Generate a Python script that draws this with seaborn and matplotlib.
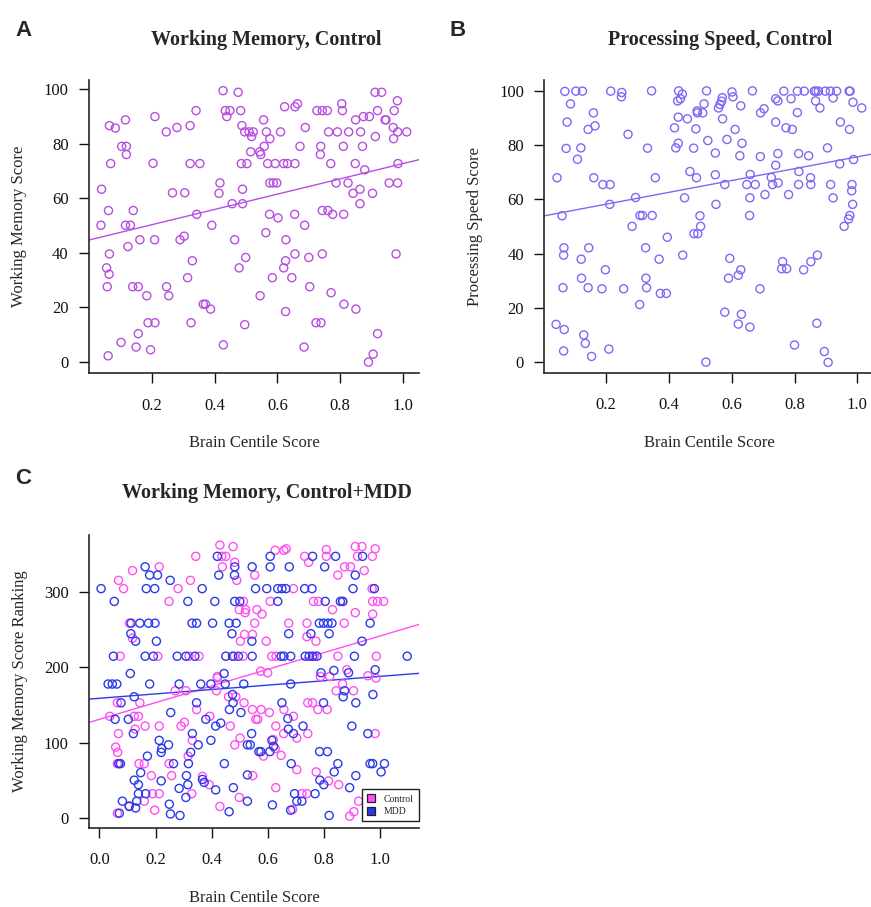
import numpy as np
import pandas as pd
import matplotlib
matplotlib.use("Agg")
import matplotlib.pyplot as plt
from matplotlib.lines import Line2D
import seaborn as sns

# ---------------- data ----------------
# Panel A: Working Memory, Control
wm_x = [0.040, 0.038, 0.062, 0.065, 0.084, 0.069, 0.065, 0.056, 0.064, 0.058, 0.061, 0.102, 0.116, 0.104,
        0.119, 0.119, 0.116, 0.132, 0.124, 0.141, 0.139, 0.157, 0.162, 0.157, 0.150, 0.184, 0.188, 0.210,
        0.196, 0.204, 0.210, 0.209, 0.246, 0.280, 0.247, 0.254, 0.266, 0.305, 0.290, 0.303, 0.322, 0.322,
        0.353, 0.341, 0.343, 0.329, 0.314, 0.325, 0.364, 0.371, 0.387, 0.391, 0.417, 0.414, 0.427, 0.434,
        0.449, 0.439, 0.456, 0.464, 0.428, 0.475, 0.483, 0.487, 0.496, 0.510, 0.523, 0.518, 0.485, 0.503,
        0.515, 0.489, 0.489, 0.478, 0.499, 0.496, 0.544, 0.547, 0.556, 0.558, 0.565, 0.576, 0.569, 0.593,
        0.576, 0.587, 0.598, 0.575, 0.602, 0.563, 0.584, 0.545, 0.610, 0.623, 0.620, 0.632, 0.656, 0.656,
        0.664, 0.672, 0.689, 0.655, 0.627, 0.626, 0.620, 0.646, 0.656, 0.626, 0.687, 0.700, 0.703, 0.685,
        0.726, 0.743, 0.759, 0.738, 0.737, 0.763, 0.770, 0.743, 0.761, 0.776, 0.743, 0.771, 0.723, 0.739,
        0.791, 0.805, 0.807, 0.810, 0.787, 0.811, 0.812, 0.827, 0.825, 0.841, 0.848, 0.849, 0.865, 0.863,
        0.863, 0.850, 0.874, 0.871, 0.878, 0.893, 0.903, 0.912, 0.919, 0.911, 0.932, 0.943, 0.946, 0.890,
        0.905, 0.919, 0.956, 0.969, 0.972, 0.970, 0.983, 0.982, 0.984, 0.983, 0.978, 1.012]
wm_y = [63.3, 50.1, 55.5, 86.6, 85.7, 72.7, 39.6, 34.5, 32.2, 27.6, 2.3, 7.2, 88.7, 79.0,
        79.0, 76.0, 50.1, 50.1, 42.3, 55.5, 27.6, 27.6, 44.8, 10.4, 5.5, 24.3, 14.4, 14.4,
        4.5, 72.8, 89.9, 44.8, 84.3, 85.9, 27.6, 24.3, 62.0, 62.0, 44.8, 46.1, 86.6, 72.7,
        72.7, 92.1, 54.1, 37.1, 30.9, 14.4, 21.2, 21.2, 19.4, 50.1, 65.6, 61.8, 99.4, 92.1,
        92.1, 89.9, 58.0, 44.8, 6.3, 98.8, 92.1, 86.6, 84.3, 84.3, 84.3, 82.6, 72.7, 72.7,
        77.0, 63.3, 58.0, 34.5, 38.3, 13.7, 77.0, 76.0, 88.7, 79.0, 84.3, 81.8, 72.7, 72.7,
        65.6, 65.6, 65.6, 54.1, 52.8, 47.4, 30.9, 24.3, 84.3, 93.5, 72.7, 72.7, 72.7, 93.5,
        94.6, 79.0, 85.9, 54.1, 44.8, 37.1, 34.5, 30.9, 39.6, 18.5, 50.1, 38.3, 27.6, 5.5,
        92.1, 92.1, 92.1, 79.0, 76.0, 84.3, 72.7, 55.5, 55.5, 54.1, 39.6, 25.4, 14.4, 14.4,
        84.3, 94.6, 92.1, 79.0, 65.6, 54.1, 21.2, 84.3, 65.6, 61.8, 72.7, 88.7, 84.3, 63.3,
        58.0, 19.4, 89.9, 79.0, 70.4, 89.9, 61.8, 82.6, 92.1, 98.8, 98.8, 88.7, 88.7, 0.0,
        2.9, 10.4, 65.6, 85.9, 92.1, 81.8, 84.3, 95.7, 72.7, 65.6, 39.6, 84.3]

# Panel B: Processing Speed, Control
ps_x = [0.044, 0.041, 0.060, 0.066, 0.065, 0.063, 0.067, 0.065, 0.069, 0.087, 0.076, 0.073, 0.104, 0.125,
        0.120, 0.109, 0.121, 0.122, 0.129, 0.134, 0.143, 0.145, 0.143, 0.154, 0.160, 0.165, 0.161, 0.187,
        0.190, 0.213, 0.212, 0.198, 0.209, 0.215, 0.250, 0.249, 0.270, 0.256, 0.283, 0.294, 0.307, 0.308,
        0.316, 0.347, 0.326, 0.327, 0.329, 0.332, 0.345, 0.357, 0.369, 0.373, 0.392, 0.395, 0.418, 0.422,
        0.430, 0.430, 0.428, 0.431, 0.437, 0.443, 0.450, 0.444, 0.459, 0.467, 0.479, 0.486, 0.488, 0.480,
        0.492, 0.490, 0.491, 0.508, 0.512, 0.499, 0.501, 0.518, 0.520, 0.524, 0.548, 0.548, 0.550, 0.558,
        0.563, 0.568, 0.570, 0.571, 0.578, 0.585, 0.578, 0.594, 0.590, 0.601, 0.604, 0.611, 0.629, 0.633,
        0.626, 0.621, 0.629, 0.621, 0.631, 0.658, 0.666, 0.648, 0.659, 0.658, 0.657, 0.675, 0.690, 0.691,
        0.692, 0.703, 0.706, 0.726, 0.730, 0.748, 0.740, 0.747, 0.740, 0.740, 0.747, 0.766, 0.762, 0.759,
        0.775, 0.773, 0.781, 0.789, 0.793, 0.800, 0.809, 0.809, 0.813, 0.814, 0.813, 0.829, 0.831, 0.845,
        0.851, 0.852, 0.852, 0.873, 0.871, 0.863, 0.868, 0.876, 0.867, 0.881, 0.898, 0.895, 0.907, 0.914,
        0.934, 0.923, 0.905, 0.915, 0.923, 0.946, 0.944, 0.974, 0.977, 0.986, 0.975, 0.988, 0.983, 0.982,
        0.985, 0.976, 0.972, 0.958, 1.014]
ps_y = [68.0, 14.0, 54.0, 42.2, 39.5, 27.5, 12.1, 4.2, 99.8, 95.2, 88.5, 78.8, 99.9, 99.9,
        79.0, 74.8, 38.0, 31.0, 10.1, 7.0, 85.8, 42.2, 27.5, 2.2, 91.9, 87.1, 68.0, 27.1,
        65.5, 65.5, 58.2, 34.1, 4.9, 99.9, 99.4, 97.8, 84.0, 27.1, 50.1, 60.7, 21.3, 54.1,
        54.1, 54.1, 42.2, 31.0, 27.5, 78.9, 100.0, 68.0, 38.0, 25.4, 25.4, 46.1, 86.4, 79.0,
        80.7, 90.3, 96.3, 100.0, 97.1, 98.8, 60.6, 39.5, 89.7, 70.3, 78.9, 86.0, 68.0, 47.4,
        47.4, 92.6, 91.9, 91.9, 95.2, 54.0, 50.1, 0.1, 100.0, 81.7, 77.1, 69.1, 58.2, 93.7,
        95.0, 96.2, 97.5, 89.7, 65.5, 82.1, 18.5, 38.3, 31.0, 99.6, 97.8, 85.8, 94.5, 80.7,
        76.1, 32.1, 34.1, 14.1, 17.7, 13.0, 100.0, 65.5, 69.2, 60.6, 54.1, 65.5, 27.1, 75.8,
        91.9, 93.4, 61.8, 68.1, 65.5, 66.1, 72.6, 76.9, 88.5, 97.1, 96.3, 99.9, 37.1, 34.5,
        34.5, 86.4, 61.8, 97.1, 85.8, 6.4, 99.9, 92.0, 76.9, 70.3, 65.5, 34.1, 99.9, 76.1,
        68.0, 65.5, 37.1, 39.5, 14.4, 99.9, 99.9, 99.9, 96.3, 93.7, 99.9, 4.0, 0.0, 99.9,
        99.9, 97.4, 79.0, 65.5, 60.6, 88.5, 73.1, 99.9, 99.9, 95.8, 85.8, 74.7, 65.5, 63.2,
        58.2, 54.1, 52.8, 50.1, 93.7]

# Panel C: Working Memory ranking, Control (pink) and MDD (blue)
ctrl_x = [0.429, 0.476, 0.343, 0.436, 0.450, 0.438, 0.482, 0.213, 0.118, 0.068, 0.086, 0.324, 0.280, 0.248,
          0.489, 0.553, 0.513, 0.498, 0.521, 0.519, 0.561, 0.107, 0.553, 0.517, 0.545, 0.502, 0.118, 0.074,
          0.208, 0.319, 0.355, 0.481, 0.512, 0.420,
          0.626, 0.657, 0.665, 0.731, 0.745, 0.808, 0.808, 0.911, 0.935, 0.919, 0.972, 0.982, 0.849, 0.873,
          0.894, 0.943, 0.971, 0.691, 0.608, 0.762, 0.780, 0.867, 0.973, 0.990, 1.012, 0.830, 0.911, 0.973,
          0.579, 0.674, 0.739, 0.872, 0.594, 0.739, 0.771, 0.614, 0.629, 0.766, 0.849, 0.986, 0.574, 0.599,
          0.881, 0.956, 0.787, 0.985, 0.820,
          0.420, 0.270, 0.308, 0.417, 0.460, 0.486, 0.064, 0.144, 0.346, 0.515, 0.545, 0.037, 0.124, 0.139,
          0.303, 0.291, 0.393, 0.466, 0.163, 0.213, 0.127, 0.068, 0.501, 0.482, 0.331, 0.058, 0.065, 0.316,
          0.064, 0.141, 0.160, 0.248, 0.185, 0.257, 0.367, 0.391, 0.546, 0.189, 0.213, 0.329, 0.160, 0.106,
          0.197, 0.064, 0.429, 0.498, 0.557,
          0.576, 0.605, 0.564, 0.628, 0.657, 0.691, 0.656, 0.703, 0.742, 0.619, 0.626, 0.584, 0.647, 0.703,
          0.772, 0.816, 0.852, 0.742, 0.759, 0.778, 0.811, 0.843, 0.866, 0.905, 0.982, 0.628, 0.721, 0.739,
          0.923, 0.906, 0.891, 0.688]
ctrl_y = [363, 361, 348, 348, 348, 334, 340, 334, 329, 316, 305, 316, 305, 288,
          316, 323, 288, 277, 277, 273, 277, 259, 259, 244, 244, 235, 239, 215,
          215, 215, 215, 215, 215, 188,
          356, 356, 358, 348, 340, 357, 348, 361, 361, 348, 348, 358, 323, 334,
          334, 329, 305, 305, 288, 288, 288, 288, 288, 288, 288, 277, 273, 271,
          271, 259, 259, 259, 235, 241, 235, 215, 215, 215, 215, 215, 195, 193,
          197, 189, 188, 186, 188,
          186, 169, 169, 169, 161, 161, 153, 153, 144, 153, 144, 135, 135, 135,
          127, 122, 135, 122, 122, 122, 118, 112, 106, 97, 103, 94, 87, 82,
          72, 72, 72, 72, 56, 56, 55, 44, 56, 32, 32, 32, 22, 16,
          10, 6, 15, 27, 131,
          144, 140, 131, 122, 144, 135, 112, 106, 112, 104, 92, 82, 83, 64,
          61, 49, 44, 153, 153, 144, 144, 169, 178, 169, 112, 40, 32, 32,
          22, 8, 2, 11]

mdd_x = [0.006, 0.053, 0.163, 0.179, 0.207, 0.252, 0.167, 0.197, 0.366, 0.315, 0.411, 0.482, 0.500, 0.420,
         0.425, 0.482, 0.481, 0.544, 0.556, 0.113, 0.144, 0.175, 0.198, 0.330, 0.346, 0.403, 0.462, 0.487,
         0.112, 0.129, 0.203, 0.472, 0.543, 0.050, 0.163, 0.192, 0.277, 0.308, 0.340, 0.450, 0.474, 0.495,
         0.544, 0.110, 0.444,
         0.608, 0.759, 0.841, 0.937, 0.608, 0.676, 0.802, 0.911, 0.596, 0.635, 0.650, 0.664, 0.731, 0.757,
         0.903, 0.979, 0.635, 0.804, 0.858, 0.866, 0.783, 0.798, 0.814, 0.828, 0.964, 0.674, 0.753, 0.818,
         0.935, 0.647, 0.657, 0.681, 0.733, 0.747, 0.759, 0.775, 0.908, 1.096, 0.789, 0.835, 0.887, 0.982,
         0.974,
         0.031, 0.046, 0.062, 0.179, 0.284, 0.361, 0.397, 0.448, 0.514, 0.124, 0.077, 0.254, 0.346, 0.474,
         0.476, 0.463, 0.504, 0.056, 0.103, 0.379, 0.432, 0.414, 0.121, 0.213, 0.246, 0.222, 0.220, 0.331,
         0.352, 0.325, 0.397, 0.542, 0.527, 0.537, 0.568, 0.171, 0.069, 0.075, 0.264, 0.317, 0.445, 0.147,
         0.124, 0.139, 0.220, 0.310, 0.315, 0.284, 0.367, 0.373, 0.414, 0.477, 0.527, 0.139, 0.165, 0.082,
         0.106, 0.133, 0.129, 0.308, 0.249, 0.253, 0.287, 0.071, 0.462, 0.527,
         0.681, 0.873, 0.868, 0.913, 0.798, 0.650, 0.671, 0.673, 0.725, 0.691, 0.899, 0.956, 0.614, 0.620,
         0.575, 0.607, 0.683, 0.784, 0.812, 0.849, 0.836, 0.913, 0.964, 0.973, 1.015, 1.003, 0.785, 0.799,
         0.891, 0.768, 0.695, 0.703, 0.721, 0.616, 0.681, 0.818]
mdd_y = [305, 288, 334, 323, 323, 316, 305, 305, 305, 288, 288, 288, 288, 348,
         323, 334, 323, 334, 305, 259, 259, 259, 259, 259, 259, 259, 259, 259,
         245, 235, 235, 245, 235, 215, 215, 215, 215, 215, 215, 215, 215, 215,
         215, 192, 192,
         348, 348, 348, 348, 334, 334, 334, 323, 305, 305, 305, 305, 305, 305,
         305, 305, 288, 288, 288, 288, 259, 259, 259, 259, 259, 245, 245, 245,
         235, 215, 215, 215, 215, 215, 215, 215, 215, 215, 193, 196, 193, 197,
         164,
         178, 178, 178, 178, 178, 178, 178, 178, 178, 161, 153, 140, 153, 164,
         153, 144, 140, 131, 131, 131, 126, 122, 112, 103, 97, 92, 87, 112,
         97, 87, 103, 112, 97, 97, 88, 82, 72, 72, 72, 72, 72, 60,
         50, 44, 49, 56, 44, 39, 51, 47, 37, 40, 57, 32, 32, 22,
         15, 22, 13, 27, 18, 5, 3, 6, 8, 22,
         178, 169, 161, 153, 153, 153, 132, 118, 122, 112, 122, 112, 103, 95,
         88, 88, 72, 88, 88, 72, 61, 56, 72, 72, 72, 61, 50, 44,
         40, 32, 32, 22, 22, 17, 10, 3]

# fitted regression lines: (intercept, slope)
fit_a = (44.7, 28.0)
fit_b = (53.9, 21.8)
fit_c_ctrl = (131.0, 111.0)
fit_c_mdd = (159.0, 29.2)

group_labels = ["Control", "MDD"]

# ---------------- styling ----------------
sns.set_style("ticks")
plt.rcParams["font.family"] = ["Liberation Serif", "DejaVu Serif"]
plt.rcParams["axes.linewidth"] = 1.2

col_a = "#B64FE0"
col_b = "#7A6AF6"
col_ctrl = "#FF4FF2"
col_mdd = "#2A3AEA"

W, H = 871, 907
fig = plt.figure(figsize=(W / 100, H / 100), dpi=100)


def px_axes(left, top, right, bottom):
    return fig.add_axes([left / W, 1 - bottom / H, (right - left) / W, (bottom - top) / H])


def style_axes(ax):
    sns.despine(ax=ax)
    ax.tick_params(axis="both", direction="out", length=7.2, width=1.0, labelsize=12,
                   colors="#111111")
    ax.tick_params(axis="x", pad=10.5)
    ax.tick_params(axis="y", pad=7.5)


def hollow(ax, x, y, color):
    df = pd.DataFrame({"x": x, "y": y})
    sns.scatterplot(data=df, x="x", y="y", ax=ax, s=34, marker="o",
                    facecolor="none", edgecolor=color, color=color, linewidth=1.0, zorder=3)


# Panel A
axA = px_axes(89, 80, 419, 373)
hollow(axA, wm_x, wm_y, col_a)
axA.axline((0, fit_a[0]), slope=fit_a[1], color=col_a, lw=1.0, zorder=2)
axA.set_xlim(0.0, 1.051)
axA.set_ylim(-4.0, 103.3)
axA.set_xticks([0.2, 0.4, 0.6, 0.8, 1.0])
axA.set_yticks([0, 20, 40, 60, 80, 100])
style_axes(axA)
axA.set_xlabel("Brain Centile Score", fontsize=12)
axA.set_ylabel("Working Memory Score", fontsize=12)

# Panel B
axB = px_axes(544.3, 80, 874.3, 372.7)
hollow(axB, ps_x, ps_y, col_b)
axB.axline((0, fit_b[0]), slope=fit_b[1], color=col_b, lw=1.0, zorder=2)
axB.set_xlim(0.0035, 1.054)
axB.set_ylim(-3.8, 104.0)
axB.set_xticks([0.2, 0.4, 0.6, 0.8, 1.0])
axB.set_yticks([0, 20, 40, 60, 80, 100])
style_axes(axB)
axB.set_xlabel("Brain Centile Score", fontsize=12)
axB.set_ylabel("Processing Speed Score", fontsize=12)

# Panel C
axC = px_axes(89, 535, 419, 827.7)
hollow(axC, ctrl_x, ctrl_y, col_ctrl)
hollow(axC, mdd_x, mdd_y, col_mdd)
axC.axline((0, fit_c_ctrl[0]), slope=fit_c_ctrl[1], color=col_ctrl, lw=1.0, zorder=2)
axC.axline((0, fit_c_mdd[0]), slope=fit_c_mdd[1], color=col_mdd, lw=1.0, zorder=2)
axC.set_xlim(-0.037, 1.138)
axC.set_ylim(-13.3, 376.4)
axC.set_xticks([0.0, 0.2, 0.4, 0.6, 0.8, 1.0])
axC.set_yticks([0, 100, 200, 300])
style_axes(axC)
axC.set_xlabel("Brain Centile Score", fontsize=12)
axC.set_ylabel("Working Memory Score Ranking", fontsize=12)

handles = [Line2D([], [], marker="s", linestyle="None", markersize=5.5,
                  markerfacecolor=c, markeredgecolor="#222222", markeredgewidth=0.9)
           for c in (col_ctrl, col_mdd)]
leg = axC.legend(handles, group_labels, loc="lower right", bbox_to_anchor=(1.0, 0.022),
                 borderaxespad=0, fontsize=7, frameon=True, fancybox=False,
                 handlelength=0.8, handletextpad=0.9, borderpad=0.55, labelspacing=0.35)
leg.get_frame().set_edgecolor("#222222")
leg.get_frame().set_linewidth(1.0)
leg.get_frame().set_alpha(1)

# label positions (axes fraction)
axA.xaxis.set_label_coords(0.5, -(443 - 373) / 293)
axB.xaxis.set_label_coords(0.5, -(443 - 372.7) / 292.7)
axC.xaxis.set_label_coords(0.5, -(898 - 827.7) / 292.7)
for ax in (axA, axB, axC):
    ax.xaxis.label.set_va("center")
    ax.yaxis.label.set_va("center")
axA.yaxis.set_label_coords(-(89 - 19) / 330, 0.5)
axB.yaxis.set_label_coords(-(544.3 - 475) / 330, 0.5)
axC.yaxis.set_label_coords(-(89 - 20) / 330, 0.5)

# titles and panel letters
title_kw = dict(fontsize=14.5, fontweight="bold", ha="center", va="center")
fig.text(266.5 / W, 1 - 40 / H, "Working Memory, Control", **title_kw)
fig.text(720 / W, 1 - 40 / H, "Processing Speed, Control", **title_kw)
fig.text(267 / W, 1 - 493 / H, "Working Memory, Control+MDD", **title_kw)

letter_kw = dict(fontsize=16, fontweight="bold", ha="center", va="center",
                 family=["Liberation Sans", "DejaVu Sans"])
fig.text(23.5 / W, 1 - 30 / H, "A", **letter_kw)
fig.text(458 / W, 1 - 30 / H, "B", **letter_kw)
fig.text(23.5 / W, 1 - 479 / H, "C", **letter_kw)

fig.savefig("out.png", dpi=100)
